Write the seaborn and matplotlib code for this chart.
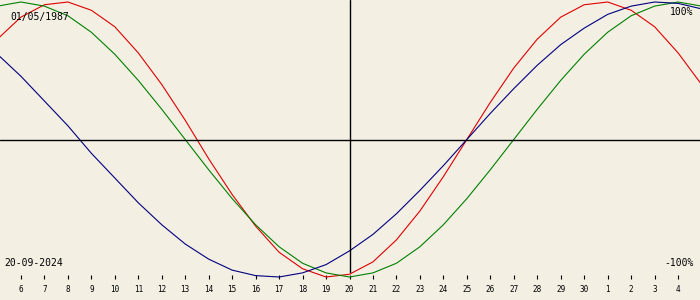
import matplotlib
matplotlib.use("Agg")
import matplotlib.pyplot as plt
import seaborn as sns
import pandas as pd

# ---- data (percent values read per day; day 20 = 20 Sept 2024) ----
days = list(range(5, 36))
physical = [73, 89, 98, 100, 94, 82, 63, 40, 14, -14, -40, -63, -82, -94, -100,
            -98, -89, -73, -52, -27, 0, 27, 52, 73, 89, 98, 100, 94, 82, 63, 40]
emotional = [97, 100, 97, 90, 78, 62, 43, 22, 0, -22, -43, -62, -78, -90, -97,
             -100, -97, -90, -78, -62, -43, -22, 0, 22, 43, 62, 78, 90, 97, 100, 97]
intellectual = [62, 46, 28, 10, -10, -28, -46, -62, -76, -87, -95, -99, -100, -97, -91,
                -81, -69, -54, -37, -19, 0, 19, 37, 54, 69, 81, 91, 97, 100, 99, 95]
tick_days = list(range(6, 35))
tick_labels = [str(d) for d in range(6, 31)] + ["1", "2", "3", "4"]
birth_label = "01/05/1987"
today_label = "20-09-2024"
today_day = 20
top_label = "100%"
bottom_label = "-100%"

colors = {"physical": "#e00000", "emotional": "#008000", "intellectual": "#000080"}
bg = "#f3efe3"

df = pd.concat([
    pd.DataFrame({"day": days, "value": physical, "cycle": "physical"}),
    pd.DataFrame({"day": days, "value": emotional, "cycle": "emotional"}),
    pd.DataFrame({"day": days, "value": intellectual, "cycle": "intellectual"}),
])

sns.set_theme(style="white")
plt.rcParams["font.family"] = ["DejaVu Sans Mono", "DejaVu Sans"]

W, H = 700, 300
fig = plt.figure(figsize=(7, 3), dpi=100, facecolor=bg)
ax = fig.add_axes([0, 0, 1, 1])
ax.set_facecolor(bg)

# pixel mapping: x = 349.5 + (day-20)*23.47 ; y = 139.5 - v*1.375
pxd = 23.47
x0 = today_day - 349.5 / pxd
x1 = today_day + (W - 349.5) / pxd
cy, amp = 139.5, 1.375
ax.set_xlim(x0, x1)
ax.set_ylim(-(H - cy) / amp, cy / amp)

sns.lineplot(data=df, x="day", y="value", hue="cycle", palette=colors,
             legend=False, linewidth=0.8, ax=ax, sort=True)

ax.axhline(0, color="black", linewidth=1.0)
ax.axvline(today_day, ymin=1 - 272 / H, ymax=1, color="black", linewidth=1.0)

for s in ["top", "left", "right"]:
    ax.spines[s].set_visible(False)
ax.spines["bottom"].set_position(("data", (cy - 275) / amp))
ax.spines["bottom"].set_visible(False)
ax.set_yticks([])
ax.set_xticks(tick_days)
ax.set_xticklabels(tick_labels)
ax.tick_params(axis="x", direction="out", length=3.0, width=0.8, color="black",
               labelsize=5.5, pad=4.0, labelcolor="black", bottom=True)
ax.set_xlabel("")
ax.set_ylabel("")

def ptext(x, y, s, ha="left"):
    fig.text(x / W, 1 - y / H, s, ha=ha, va="center", fontsize=7, color="black")

ptext(10, 17, birth_label)
ptext(693, 12, top_label, ha="right")
ptext(4, 263, today_label)
ptext(694, 263, bottom_label, ha="right")

fig.savefig("out.png", dpi=100, facecolor=bg)
